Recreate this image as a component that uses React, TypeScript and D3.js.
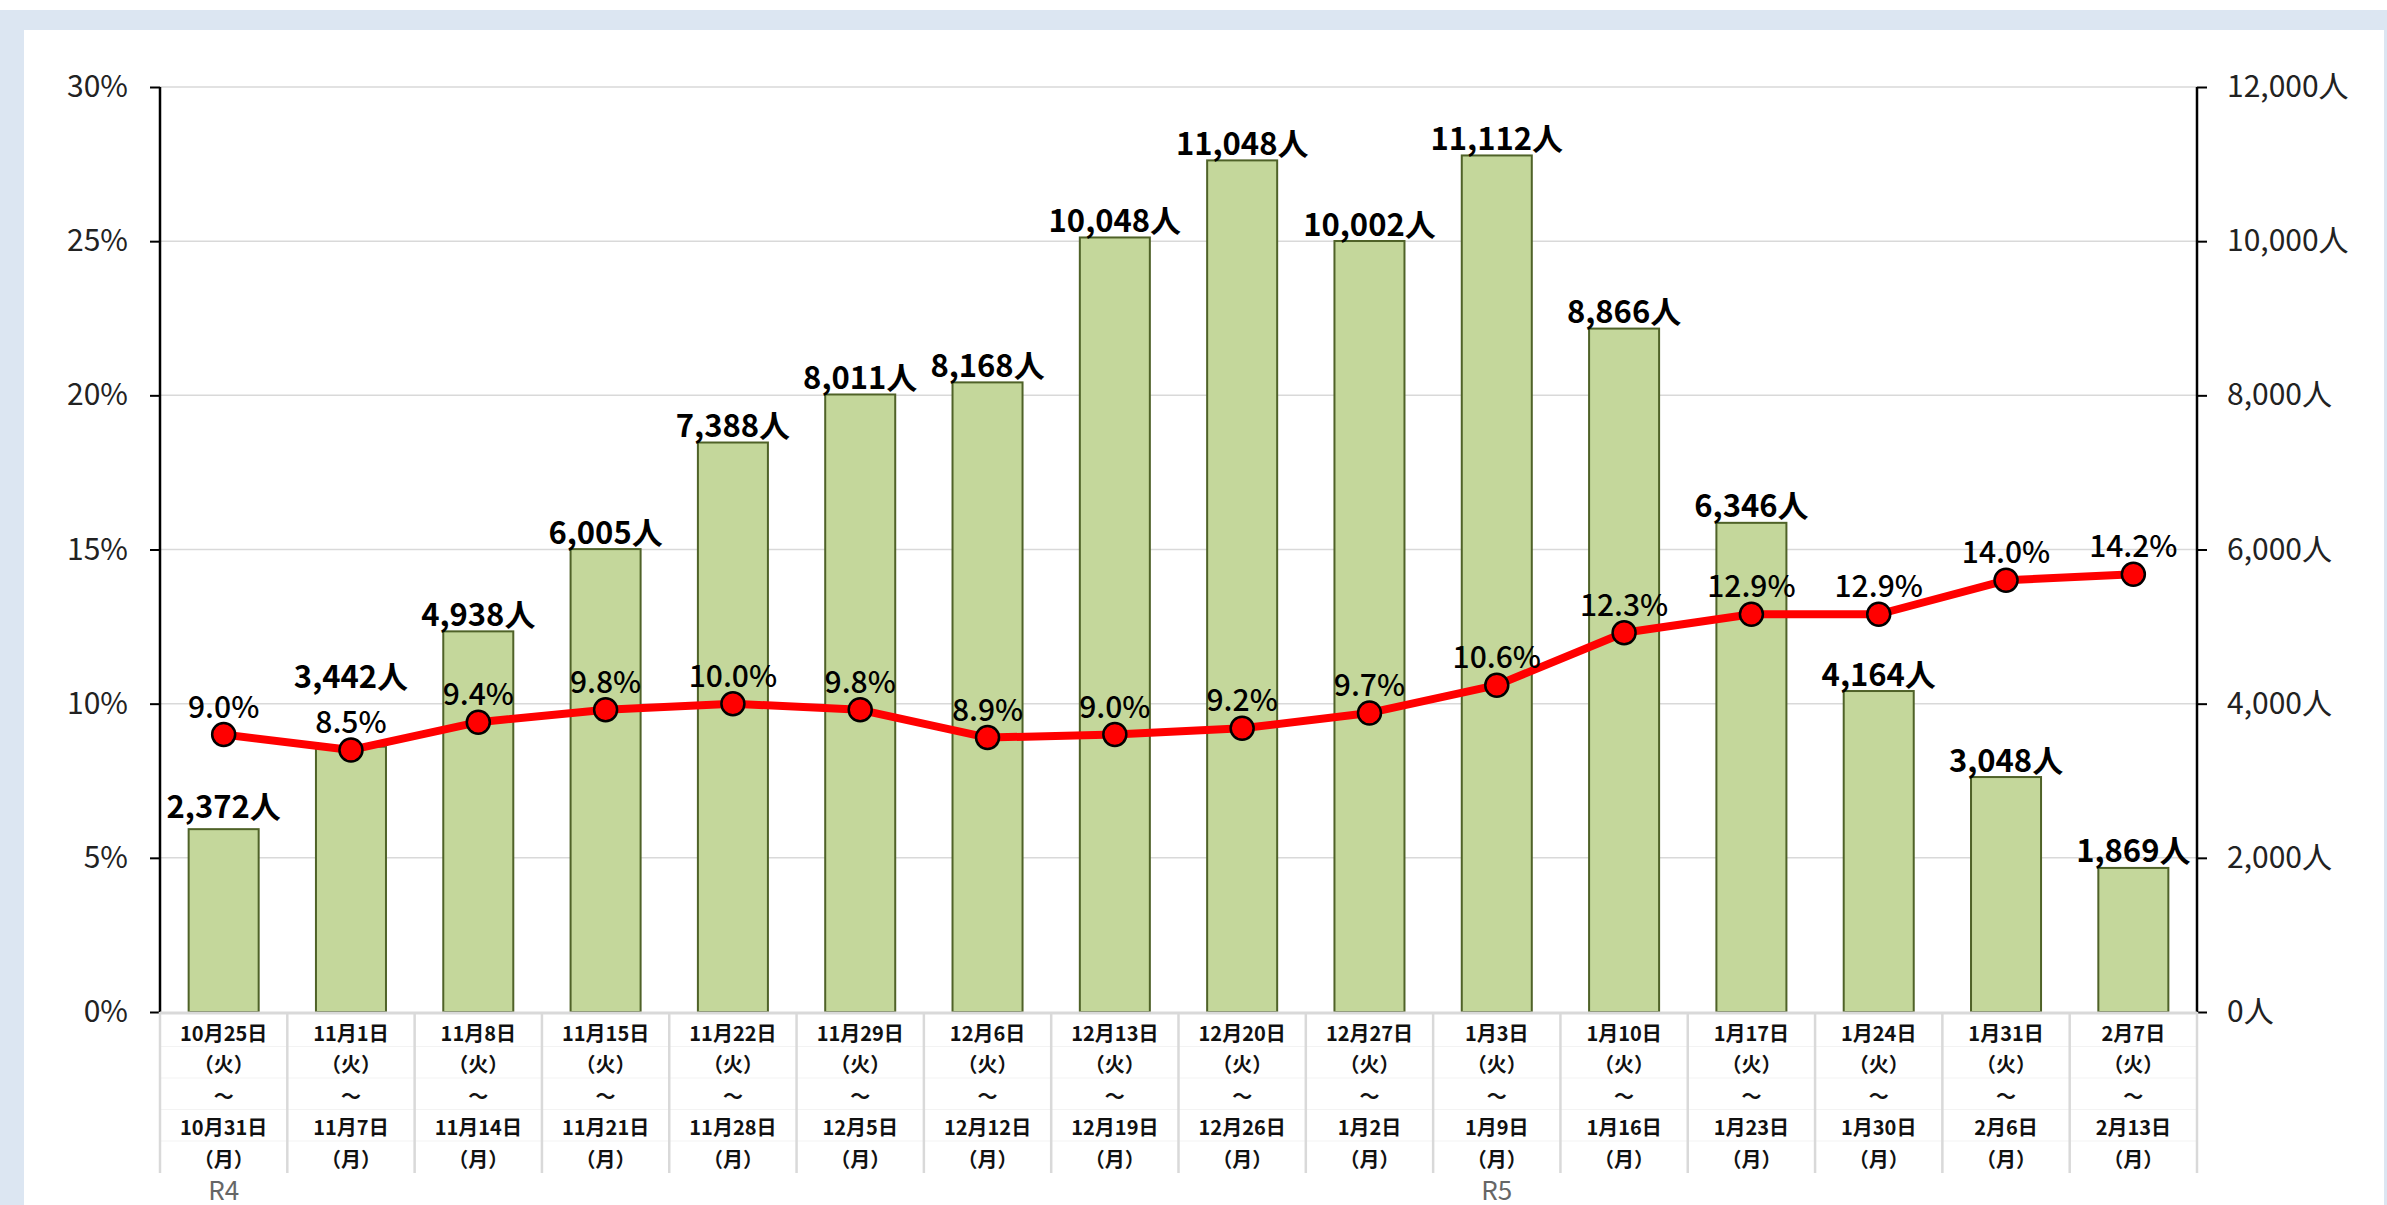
import { useEffect, useRef } from 'react'
import * as d3 from 'd3'

// weekly periods (Tue -> Mon)
const startDates = ['10月25日', '11月1日', '11月8日', '11月15日', '11月22日', '11月29日', '12月6日', '12月13日', '12月20日', '12月27日', '1月3日', '1月10日', '1月17日', '1月24日', '1月31日', '2月7日']
const endDates = ['10月31日', '11月7日', '11月14日', '11月21日', '11月28日', '12月5日', '12月12日', '12月19日', '12月26日', '1月2日', '1月9日', '1月16日', '1月23日', '1月30日', '2月6日', '2月13日']
const eraLabels = [{ idx: 0, text: 'R4' }, { idx: 10, text: 'R5' }]

const counts = [2372, 3442, 4938, 6005, 7388, 8011, 8168, 10048, 11048, 10002, 11112, 8866, 6346, 4164, 3048, 1869]
const rates = [9.0, 8.5, 9.4, 9.8, 10.0, 9.8, 8.9, 9.0, 9.2, 9.7, 10.6, 12.3, 12.9, 12.9, 14.0, 14.2]

const pctTicks = [0, 5, 10, 15, 20, 25, 30]
const peopleTicks = [0, 2000, 4000, 6000, 8000, 10000, 12000]

const W = 2387
const H = 1205
const FONT = '"Noto Sans CJK JP", "Noto Sans", sans-serif'

export default function App() {
  const svgRef = useRef<SVGSVGElement>(null)

  useEffect(() => {
    const svg = d3.select(svgRef.current)
    svg.selectAll('*').remove()

    const left = 160, right = 2197, top = 87, bottom = 1012

    // frame
    svg.append('rect').attr('width', W).attr('height', H).attr('fill', '#ffffff')
    svg.append('rect').attr('y', 10).attr('width', W).attr('height', H - 10).attr('fill', '#dce6f2')
    svg.append('rect').attr('x', 24).attr('y', 30).attr('width', 2360).attr('height', H - 30).attr('fill', '#ffffff')

    const data = counts.map((c, i) => ({ i, count: c, rate: rates[i], start: startDates[i], end: endDates[i] }))

    const x = d3.scaleBand<number>().domain(data.map(d => d.i)).range([left, right]).paddingInner(0.45).paddingOuter(0.225)
    const step = x.step()
    const cx = (i: number) => (x(i) ?? 0) + x.bandwidth() / 2
    const yL = d3.scaleLinear().domain([0, 30]).range([bottom, top])
    const yR = d3.scaleLinear().domain([0, 12000]).range([bottom, top])

    const g = svg.append('g')

    // grid
    g.selectAll('line.grid').data(pctTicks.slice(1)).join('line')
      .attr('x1', left).attr('x2', right).attr('y1', d => yL(d)).attr('y2', d => yL(d))
      .attr('stroke', '#d9d9d9').attr('stroke-width', 1.5)

    // left axis
    g.append('g').attr('transform', `translate(${left},0)`)
      .call(d3.axisLeft(yL).tickValues(pctTicks).tickSize(10).tickPadding(22).tickFormat(v => `${v}%`))
      .call(gg => {
        gg.select('.domain').attr('stroke', '#000').attr('stroke-width', 2.5).attr('d', `M0,${top}V${bottom}`)
        gg.selectAll('.tick line').attr('stroke', '#000').attr('stroke-width', 2)
        gg.selectAll('.tick text').attr('fill', '#222').attr('font-size', '30px').attr('font-family', FONT)
      })

    // right axis
    g.append('g').attr('transform', `translate(${right},0)`)
      .call(d3.axisRight(yR).tickValues(peopleTicks).tickSize(10).tickPadding(20).tickFormat(v => `${d3.format(',')(v as number)}人`))
      .call(gg => {
        gg.select('.domain').attr('stroke', '#000').attr('stroke-width', 2.5).attr('d', `M0,${top}V${bottom}`)
        gg.selectAll('.tick line').attr('stroke', '#000').attr('stroke-width', 2)
        gg.selectAll('.tick text').attr('fill', '#222').attr('font-size', '30px').attr('font-family', FONT)
      })

    // category table below the axis
    const tableBottom = 1173
    const rowH = 31.5
    for (let r = 1; r < 5; r++) {
      g.append('line').attr('x1', left).attr('x2', right)
        .attr('y1', bottom + 3 + r * rowH).attr('y2', bottom + 3 + r * rowH)
        .attr('stroke', '#f3f3f3').attr('stroke-width', 1)
    }
    g.selectAll('line.sep').data(d3.range(17)).join('line')
      .attr('x1', i => left + i * step).attr('x2', i => left + i * step)
      .attr('y1', bottom).attr('y2', tableBottom)
      .attr('stroke', '#d9d9d9').attr('stroke-width', 2.5)

    const rows = (d: typeof data[number]) => [d.start, '（火）', '～', d.end, '（月）']
    const lab = g.selectAll('g.xl').data(data).join('g').attr('transform', d => `translate(${cx(d.i)},${bottom + 20})`)
    lab.selectAll('text').data(d => rows(d)).join('text')
      .attr('y', (_, r) => r * rowH)
      .attr('text-anchor', 'middle').attr('dominant-baseline', 'central')
      .attr('font-size', '20px').attr('font-weight', 700).attr('font-family', FONT).attr('fill', '#111')
      .text(t => t)

    g.selectAll('text.era').data(eraLabels).join('text')
      .attr('x', d => cx(d.idx)).attr('y', 1188)
      .attr('text-anchor', 'middle').attr('dominant-baseline', 'central')
      .attr('font-size', '26px').attr('font-family', FONT).attr('fill', '#666')
      .text(d => d.text)

    // bars
    g.selectAll('rect.bar').data(data).join('rect')
      .attr('x', d => x(d.i) ?? 0).attr('width', x.bandwidth())
      .attr('y', d => yR(d.count)).attr('height', d => bottom - yR(d.count))
      .attr('fill', '#c4d79b').attr('stroke', '#4f6228').attr('stroke-width', 2)

    // baseline over bars
    g.append('line').attr('x1', left).attr('x2', right).attr('y1', bottom + 1).attr('y2', bottom + 1)
      .attr('stroke', '#d9d9d9').attr('stroke-width', 3)

    // count labels (two nudged up to avoid the rate labels)
    const countNudge: Record<number, number> = { 0: -6, 1: -53 }
    g.selectAll('text.cnt').data(data).join('text')
      .attr('x', d => cx(d.i)).attr('y', d => yR(d.count) - 19 + (countNudge[d.i] ?? 0))
      .attr('text-anchor', 'middle').attr('dominant-baseline', 'central')
      .attr('font-size', '31px').attr('font-weight', 700).attr('font-family', FONT).attr('fill', '#000')
      .text(d => `${d3.format(',')(d.count)}人`)

    // rate line
    const line = d3.line<typeof data[number]>().x(d => cx(d.i)).y(d => yL(d.rate))
    g.append('path').datum(data).attr('d', line).attr('fill', 'none')
      .attr('stroke', '#ff0000').attr('stroke-width', 8).attr('stroke-linejoin', 'round')
    g.selectAll('circle.pt').data(data).join('circle')
      .attr('cx', d => cx(d.i)).attr('cy', d => yL(d.rate)).attr('r', 11.5)
      .attr('fill', '#ff0000').attr('stroke', '#000').attr('stroke-width', 2.5)

    g.selectAll('text.rate').data(data).join('text')
      .attr('x', d => cx(d.i)).attr('y', d => yL(d.rate) - 30)
      .attr('text-anchor', 'middle').attr('dominant-baseline', 'central')
      .attr('font-size', '30px').attr('font-weight', 500).attr('font-family', FONT).attr('fill', '#000')
      .text(d => `${d.rate.toFixed(1)}%`)
  }, [])

  return (
    <div style={{ position: 'absolute', left: 0, top: 0, width: W, height: H }}>
      <svg ref={svgRef} width={W} height={H} style={{ display: 'block' }} />
    </div>
  )
}
